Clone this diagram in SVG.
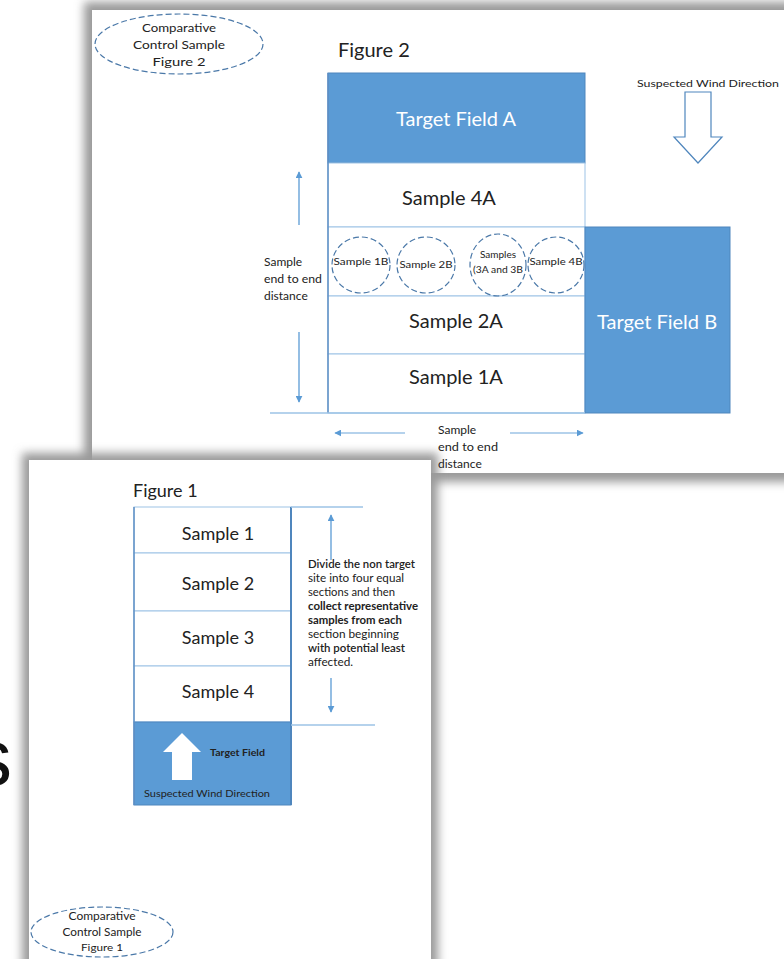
<svg xmlns="http://www.w3.org/2000/svg" width="784" height="959" viewBox="0 0 784 959">
<defs>
<filter id="sh" x="-10%" y="-10%" width="120%" height="120%"><feGaussianBlur stdDeviation="5"/></filter>
<marker id="ah" viewBox="0 0 10 10" refX="9" refY="5" markerWidth="7" markerHeight="7" orient="auto-start-reverse" markerUnits="userSpaceOnUse"><path d="M0,0 L10,5 L0,10 z" fill="#5b9bd5"/></marker>
<style>
text{font-family:Lato,"Open Sans","Liberation Sans",sans-serif;fill:#222}
.big{font-size:20px;text-anchor:middle}
.mid{font-size:18px;text-anchor:middle}
.wt{fill:#fff}
.sm{font-size:12px}
.ctr{text-anchor:middle}
.blue{fill:#5b9bd5;stroke:#4f86bd;stroke-width:1}
.row{fill:#fff;stroke:#9dc3e6;stroke-width:1}
.dash{fill:none;stroke:#4a78a8;stroke-width:1.2;stroke-dasharray:6 3}
.conn{stroke:#5b9bd5;stroke-width:1.3;fill:none}
.lite{stroke:#9dc3e6;stroke-width:1.3;fill:none}
</style>
</defs>
<rect width="784" height="959" fill="#fff"/>
<!-- page 2 -->
<rect x="84" y="2" width="720" height="480" fill="#9a9a9a" filter="url(#sh)"/>
<rect x="92" y="10" width="700" height="463" fill="#fff"/>
<text x="-28" y="785" style="font-family:'Liberation Sans',Arial,sans-serif;font-size:80px;fill:#111">s</text>
<!-- page 1 -->
<rect x="22" y="453" width="416" height="520" fill="#9a9a9a" filter="url(#sh)"/>
<rect x="29" y="460" width="402" height="510" fill="#fff"/>

<g id="fig2-title"><text x="338" y="57" style="font-size:20px">Figure 2</text></g>
<g id="fig2-control">
<ellipse cx="179" cy="44" rx="84" ry="30" class="dash"/>
<text x="179" y="32" class="ctr" style="font-size:12px" textLength="74" lengthAdjust="spacingAndGlyphs">Comparative</text>
<text x="179" y="49" class="ctr" style="font-size:12px" textLength="92" lengthAdjust="spacingAndGlyphs">Control Sample</text>
<text x="179" y="66" class="ctr" style="font-size:12px" textLength="53" lengthAdjust="spacingAndGlyphs">Figure 2</text>
</g>
<g id="target-a"><rect x="328" y="73" width="257" height="90" class="blue"/><text x="456" y="126" class="big wt">Target Field A</text></g>
<g id="sample-4a"><rect x="328" y="163" width="257" height="64" class="row"/><text x="449" y="205" class="big">Sample 4A</text></g>
<g id="circle-row"><rect x="328" y="227" width="257" height="69" class="row"/></g>
<g id="sample-2a"><rect x="328" y="296" width="257" height="58" class="row"/><text x="456" y="328" class="big">Sample 2A</text></g>
<g id="sample-1a"><rect x="328" y="354" width="257" height="59" class="row"/><text x="456" y="384" class="big">Sample 1A</text></g>
<g id="target-b"><rect x="585" y="227" width="145" height="186" class="blue"/><text x="657" y="329" class="big wt">Target Field B</text></g>
<g id="sample-1b"><ellipse cx="361" cy="265" rx="29" ry="28" class="dash"/><text x="361" y="265" class="ctr" style="font-size:9.5px" textLength="55" lengthAdjust="spacingAndGlyphs">Sample 1B</text></g>
<g id="sample-2b"><ellipse cx="426" cy="265" rx="29" ry="28" class="dash"/><text x="426" y="268" class="ctr" style="font-size:9.5px" textLength="53" lengthAdjust="spacingAndGlyphs">Sample 2B</text></g>
<g id="samples-3ab"><ellipse cx="498" cy="265" rx="28" ry="31" class="dash"/><text x="498" y="258" class="ctr" style="font-size:10px">Samples</text><text x="498" y="273" class="ctr" style="font-size:9.5px" textLength="50" lengthAdjust="spacingAndGlyphs">(3A and 3B</text></g>
<g id="sample-4b"><ellipse cx="556" cy="265" rx="28" ry="28" class="dash"/><text x="556" y="265" class="ctr" style="font-size:9.5px" textLength="53" lengthAdjust="spacingAndGlyphs">Sample 4B</text></g>
<g id="wind2">
<text x="708" y="87" class="ctr" style="font-size:8.5px" textLength="142" lengthAdjust="spacingAndGlyphs">Suspected Wind Direction</text>
<path d="M685,92 H711 V137 H722 L698,163 L674,137 H685 Z" fill="#fff" stroke="#4f86bd" stroke-width="1.2"/>
</g>
<g id="dist-left"><text x="264" y="266" class="sm">Sample</text><text x="264" y="283" class="sm" textLength="58" lengthAdjust="spacingAndGlyphs">end to end</text><text x="264" y="300" class="sm">distance</text></g>
<g id="dist-bottom"><text x="438" y="434" class="sm">Sample</text><text x="438" y="451" class="sm" textLength="60" lengthAdjust="spacingAndGlyphs">end to end</text><text x="438" y="468" class="sm">distance</text></g>

<g id="fig1-title"><text x="133" y="497" style="font-size:18px">Figure 1</text></g>
<g id="s1"><rect x="134" y="507" width="157" height="46" class="row"/><text x="218" y="540" class="mid">Sample 1</text></g>
<g id="s2"><rect x="134" y="553" width="157" height="58" class="row"/><text x="218" y="590" class="mid">Sample 2</text></g>
<g id="s3"><rect x="134" y="611" width="157" height="55" class="row"/><text x="218" y="644" class="mid">Sample 3</text></g>
<g id="s4"><rect x="134" y="666" width="157" height="56" class="row"/><text x="218" y="698" class="mid">Sample 4</text></g>
<g id="target-field"><rect x="134" y="722" width="157" height="83" class="blue"/>
<path d="M172,780 V752 H163 L182,733 L201,752 H192 V780 Z" fill="#fff"/>
<text x="210" y="756" style="font-size:8.5px;font-weight:700" textLength="55" lengthAdjust="spacingAndGlyphs">Target Field</text>
<text x="207" y="797" class="ctr" style="font-size:8.5px" textLength="126" lengthAdjust="spacingAndGlyphs">Suspected Wind Direction</text>
</g>
<g id="note" style="font-size:10.5px">
<text x="308" y="568" style="font-weight:600" textLength="107" lengthAdjust="spacingAndGlyphs">Divide the non target</text>
<text x="308" y="582" textLength="96" lengthAdjust="spacingAndGlyphs">site into four equal</text>
<text x="308" y="596" textLength="87" lengthAdjust="spacingAndGlyphs">sections and then</text>
<text x="308" y="610" style="font-weight:700" textLength="110" lengthAdjust="spacingAndGlyphs">collect representative</text>
<text x="308" y="624" style="font-weight:700" textLength="94" lengthAdjust="spacingAndGlyphs">samples from each</text>
<text x="308" y="638" textLength="91" lengthAdjust="spacingAndGlyphs">section  beginning</text>
<text x="308" y="652" style="font-weight:600" textLength="97" lengthAdjust="spacingAndGlyphs">with potential least</text>
<text x="308" y="666" textLength="45" lengthAdjust="spacingAndGlyphs">affected.</text>
</g>
<g id="fig1-control">
<ellipse cx="102" cy="932" rx="71" ry="25" class="dash"/>
<text x="102" y="920" class="ctr" style="font-size:11px" textLength="67" lengthAdjust="spacingAndGlyphs">Comparative</text>
<text x="102" y="936" class="ctr" style="font-size:11px" textLength="79" lengthAdjust="spacingAndGlyphs">Control  Sample</text>
<text x="102" y="951" class="ctr" style="font-size:10px" textLength="42" lengthAdjust="spacingAndGlyphs">Figure 1</text>
</g>

<g id="connectors">
<line x1="328" y1="73" x2="328" y2="413" stroke="#5f8fc4" stroke-width="1.5"/>
<line x1="270" y1="413" x2="585" y2="413" class="lite"/>
<line x1="299" y1="225" x2="299" y2="172" class="conn" marker-end="url(#ah)"/>
<line x1="299" y1="332" x2="299" y2="402" class="conn" marker-end="url(#ah)"/>
<line x1="405" y1="433" x2="335" y2="433" class="lite" marker-end="url(#ah)"/>
<line x1="510" y1="433" x2="583" y2="433" class="lite" marker-end="url(#ah)"/>
<line x1="134" y1="507" x2="134" y2="805" stroke="#5f8fc4" stroke-width="1.5"/>
<line x1="291" y1="507" x2="291" y2="805" stroke="#4f86bd" stroke-width="2"/>
<line x1="291" y1="507" x2="363" y2="507" class="lite"/>
<line x1="291" y1="725" x2="375" y2="725" class="lite"/>
<line x1="331" y1="560" x2="331" y2="515" class="conn" marker-end="url(#ah)"/>
<line x1="331" y1="678" x2="331" y2="712" class="conn" marker-end="url(#ah)"/>
</g>
</svg>
